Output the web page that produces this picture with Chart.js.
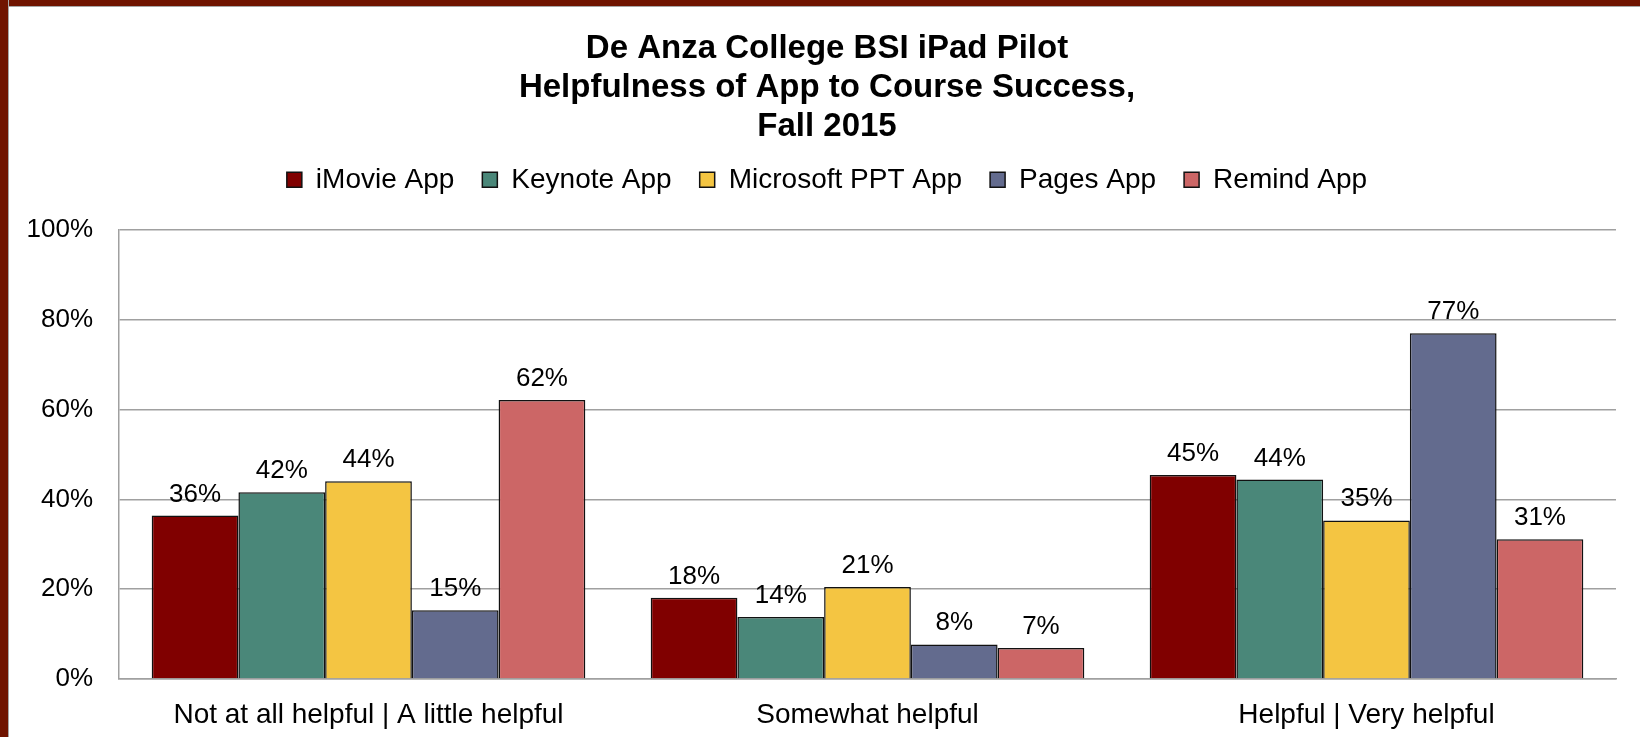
<!DOCTYPE html>
<html>
<head>
<meta charset="utf-8">
<script src="https://cdn.jsdelivr.net/npm/chart.js@4"></script>
<style>
    body { margin: 0; background: #fff; }
    #cadre { position: relative; width: 1640px; height: 737px; overflow: hidden; }
    #bord-gauche { position: absolute; left: 0; top: 0; width: 8px; height: 737px; background: #701400; border-right: 1px solid #a6a6a6; }
    #bord-haut { position: absolute; left: 0; top: 0; width: 1640px; height: 6px; background: #701400; border-bottom: 1px solid #a6a6a6; }
</style>
</head>
<body>
<div id="cadre">
    <canvas id="graphique-apps" width="1640" height="737"></canvas>
    <div id="bord-haut"></div>
    <div id="bord-gauche"></div>
</div>
<script>
// valeurs (en %)
const categories = ['Not at all helpful | A little helpful', 'Somewhat helpful', 'Helpful | Very helpful'];
const nomsApps = ['iMovie App', 'Keynote App', 'Microsoft PPT App', 'Pages App', 'Remind App'];
const imovie = [36.4, 18.1, 45.4];
const keynote = [41.6, 13.8, 44.4];
const microsoftPpt = [44.0, 20.5, 35.3];
const pages = [15.3, 7.7, 77.0];
const remind = [62.1, 6.9, 31.1];
const ticksY = [0, 20, 40, 60, 80, 100];

const couleurs = ['#800000', '#4a8779', '#f4c542', '#636b8e', '#cc6666'];
const series = [imovie, keynote, microsoftPpt, pages, remind];

const police = 'Liberation Sans, Arial, sans-serif';

const etiquettesValeurs = {
    id: 'etiquettesValeurs',
    afterDatasetsDraw(chart) {
        const ctx = chart.ctx;
        ctx.save();
        ctx.font = '26px ' + police;
        ctx.fillStyle = '#000';
        ctx.textAlign = 'center';
        ctx.textBaseline = 'alphabetic';
        chart.data.datasets.forEach((ds, i) => {
            chart.getDatasetMeta(i).data.forEach((barre, j) => {
                ctx.fillText(Math.round(ds.data[j]) + '%', barre.x, barre.y - 14);
            });
        });
        ctx.restore();
    }
};

// marge sous la légende + titre/légende un peu décalés vers la droite
const margeLegende = {
    id: 'margeLegende',
    beforeInit(chart) {
        const fitOrigine = chart.legend.fit;
        chart.legend.fit = function () {
            fitOrigine.bind(chart.legend)();
            this.height += 26;
        };
    },
    afterLayout(chart) {
        chart.titleBlock.left += 38;
        chart.legend.left += 38;
    }
};

const datasets = [];
for (let i = 0; i < series.length; i++) {
    datasets.push({
        label: nomsApps[i],
        data: series[i],
        backgroundColor: couleurs[i],
        borderColor: '#111',
        borderWidth: 1.5,
        categoryPercentage: 0.869,
        barPercentage: 1,
    });
}

const config = {
    type: 'bar',
    data: { labels: categories, datasets: datasets },
    options: {
        responsive: false,
        animation: false,
        layout: { padding: { left: 0, right: 24, top: 0, bottom: 0 } },
        plugins: {
            title: {
                display: true,
                text: ['De Anza College BSI iPad Pilot', 'Helpfulness of App to Course Success,', 'Fall 2015'],
                color: '#000',
                font: { family: police, size: 33, weight: 'bold', lineHeight: 1.17 },
                padding: { top: 30, bottom: -8 },
            },
            legend: {
                position: 'top',
                labels: {
                    color: '#000',
                    font: { family: police, size: 28 },
                    boxWidth: 15,
                    boxHeight: 15,
                    padding: 28,
                },
            },
            tooltip: { enabled: false },
        },
        scales: {
            x: {
                grid: { display: false, drawTicks: false },
                border: { color: '#a0a0a0', width: 1.5 },
                ticks: { color: '#000', font: { family: police, size: 28 }, padding: 19, maxRotation: 0 },
                afterFit(scale) { scale.height = 58; },
            },
            y: {
                min: 0,
                max: 100,
                afterBuildTicks(scale) { scale.ticks = ticksY.map((v) => ({ value: v })); },
                grid: { color: '#a0a0a0', lineWidth: 1.5, drawTicks: false },
                border: { color: '#a0a0a0', width: 1.5 },
                ticks: {
                    color: '#000',
                    font: { family: police, size: 26 },
                    padding: 26,
                    callback: (v) => v + '%',
                },
                afterFit(scale) { scale.width = 119; },
            },
        },
    },
    plugins: [etiquettesValeurs, margeLegende],
};

new Chart(document.querySelector('#graphique-apps'), config);
</script>
</body>
</html>
